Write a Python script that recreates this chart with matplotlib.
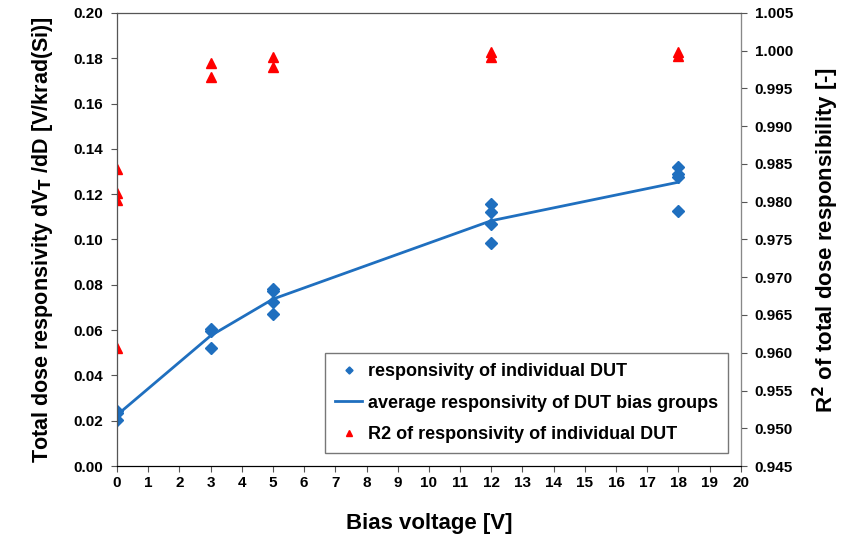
import matplotlib.pyplot as plt

plt.rcParams['font.family'] = ['Liberation Sans', 'DejaVu Sans']
plt.rcParams['font.weight'] = 'bold'
plt.rcParams['mathtext.default'] = 'bf'

# individual DUT responsivity [V/krad(Si)]
dut_bias = [0, 0, 0, 3, 3, 3, 5, 5, 5, 5, 12, 12, 12, 12, 18, 18, 18, 18]
dut_resp = [0.0243, 0.0232, 0.0201, 0.0605, 0.0598, 0.0522,
            0.0781, 0.0773, 0.0723, 0.0672,
            0.1157, 0.1123, 0.1067, 0.0986,
            0.1322, 0.1288, 0.1277, 0.1126]

# average of each bias group
avg_bias = [0, 3, 5, 12, 18]
avg_resp = [0.0225, 0.0575, 0.0737, 0.1083, 0.1253]

# R2 of each DUT fit
r2_bias = [0, 0, 0, 0, 3, 3, 5, 5, 12, 12, 18, 18]
r2_vals = [0.9844, 0.9811, 0.9802, 0.9606, 0.9984, 0.9965,
           0.9992, 0.9979, 0.9998, 0.9992, 0.9998, 0.9993]

fig = plt.figure(figsize=(8.43, 5.4), dpi=100)
ax = fig.add_axes([0.1388, 0.137, 0.740, 0.839])
ax2 = ax.twinx()

blue = '#1f6fbf'
h1, = ax.plot(dut_bias, dut_resp, linestyle='none', marker='D', markersize=6,
              color=blue, label='responsivity of individual DUT')
h2, = ax.plot(avg_bias, avg_resp, color=blue, linewidth=2,
              label='average responsivity of DUT bias groups')
h3, = ax2.plot(r2_bias, r2_vals, linestyle='none', marker='^', markersize=7,
               color='#ff0000', label='R2 of responsivity of individual DUT')

ax.set_xlim(0, 20)
ax.set_ylim(0, 0.20)
ax2.set_ylim(0.945, 1.005)
ax.set_xticks(range(0, 21))
ax.set_yticks([i * 0.02 for i in range(11)])
ax.set_yticklabels([f'{i * 0.02:.2f}' for i in range(11)])
ax2.set_yticks([0.945 + i * 0.005 for i in range(13)])
ax2.set_yticklabels([f'{0.945 + i * 0.005:.3f}' for i in range(13)])

for a in (ax, ax2):
    a.tick_params(labelsize=11, direction='out', length=4, color='#555555')
    for lab in a.get_xticklabels() + a.get_yticklabels():
        lab.set_fontweight('bold')
ax.tick_params(axis='y', pad=6)
ax2.tick_params(axis='y', pad=6)
for s in ('left', 'top'):
    ax2.spines[s].set_color('#555555')
ax2.spines['right'].set_color('#888888')
ax2.spines['bottom'].set_color('black')

ax.set_xlabel('Bias voltage [V]', fontsize=16, fontweight='bold', labelpad=16)
ax.set_ylabel(r'Total dose responsivity dV$_\mathbf{T}$ /dD [V/krad(Si)]',
              fontsize=15.5, fontweight='bold', labelpad=13)
ax2.set_ylabel(r'R$^\mathbf{2}$ of total dose responsibility [-]',
               fontsize=16, fontweight='bold', labelpad=13)

leg = ax.legend(handles=[h1, h2, h3], loc='lower right',
                bbox_to_anchor=(0.979, 0.029), borderaxespad=0,
                fontsize=13, frameon=True,
                fancybox=False, edgecolor='#555555', handlelength=1.5,
                handletextpad=0.3, markerscale=0.6, borderpad=0.55,
                labelspacing=0.8)
for t in leg.get_texts():
    t.set_fontweight('bold')

fig.savefig('out.png', dpi=100)
